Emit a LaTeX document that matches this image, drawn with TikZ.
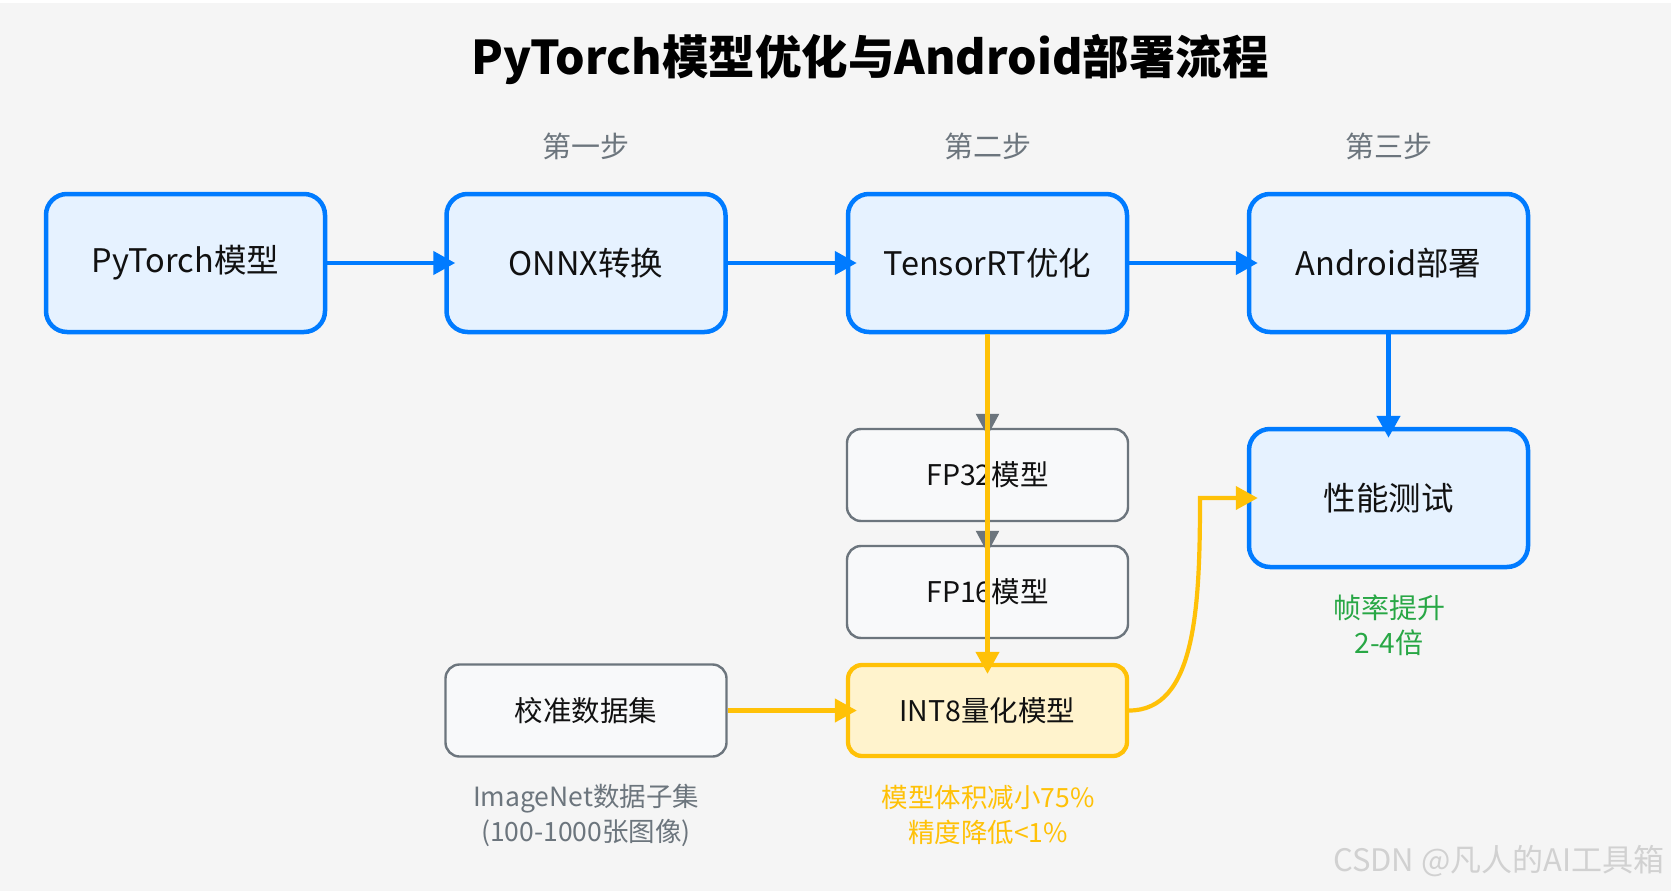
\documentclass[tikz,border=0pt]{standalone}
\usepackage{fontspec}
\setmainfont{Noto Sans CJK SC}
\usetikzlibrary{arrows.meta}
\definecolor{bgc}{HTML}{F5F5F5}
\definecolor{bluec}{HTML}{007BFF}
\definecolor{bluefill}{HTML}{E6F2FF}
\definecolor{greyc}{HTML}{6C757D}
\definecolor{greyfill}{HTML}{F8F9FA}
\definecolor{yelc}{HTML}{FFC107}
\definecolor{yelfill}{HTML}{FFF3CD}
\definecolor{greenc}{HTML}{28A745}
\definecolor{txtc}{HTML}{111111}
\begin{document}
\begin{tikzpicture}[x=1pt,y=-1pt,
  bluebox/.style={draw=bluec,fill=bluefill,line width=4.5pt,rounded corners=21pt,minimum width=279pt,minimum height=138pt,inner sep=0pt,text=txtc,font=\fontsize{32.5}{38}\selectfont},
  greybox/.style={draw=greyc,fill=greyfill,line width=2.4pt,rounded corners=14pt,minimum width=281pt,minimum height=92pt,inner sep=0pt,text=txtc,font=\fontsize{28.5}{33}\selectfont},
  yelbox/.style={draw=yelc,fill=yelfill,line width=4.3pt,rounded corners=14pt,minimum width=279pt,minimum height=91pt,inner sep=0pt,text=txtc,font=\fontsize{28.5}{33}\selectfont},
  steplabel/.style={text=greyc,font=\fontsize{29}{34}\selectfont},
  note/.style={align=center,font=\fontsize{26.5}{35}\selectfont},
  bluearrow/.style={draw=bluec,line width=4.5pt,-{Triangle[length=22pt,width=23pt]},shorten >=-11pt},
  greyarrow/.style={draw=greyc,line width=2.5pt,-{Triangle[length=22pt,width=23pt]},shorten >=-8pt},
  yelarrow/.style={draw=yelc,line width=4.2pt,-{Triangle[length=22pt,width=23pt]},shorten >=-11pt}
]
\useasboundingbox (0,0) rectangle (1671,891);
\fill[white] (0,0) rectangle (1671,891);
\fill[bgc] (0,3) rectangle (1671,891);

\node[font=\bfseries\fontsize{46.5}{52}\selectfont,text=black] (title) at (870,59) {PyTorch模型优化与Android部署流程};

\node[steplabel] (s1) at (586,146) {第一步};
\node[steplabel] (s2) at (988,146) {第二步};
\node[steplabel] (s3) at (1389,146) {第三步};

\node[bluebox] (pt) at (185.5,263) {PyTorch模型};
\node[bluebox] (onnx) at (586,263) {ONNX转换};
\node[bluebox] (trt) at (987.5,263) {TensorRT优化};
\node[bluebox] (and) at (1388.5,263) {Android部署};
\node[bluebox] (perf) at (1388.5,498) {性能测试};

\node[greybox] (fp32) at (987.5,475) {FP32模型};
\node[greybox] (fp16) at (987.5,592) {FP16模型};
\node[yelbox] (int8) at (987.5,710.5) {INT8量化模型};
\node[greybox] (calib) at (586,710.5) {校准数据集};

\node[note,text=greyc] (n1) at (586,815) {ImageNet数据子集\\(100-1000张图像)};
\node[note,text=yelc] (n2) at (988,815) {模型体积减小75\%\\精度降低<1\%};
\node[note,text=greenc,font=\fontsize{28}{35}\selectfont] (n3) at (1389,625) {帧率提升\\2-4倍};

\node[anchor=east,text=black!18,font=\fontsize{31}{36}\selectfont] (wm) at (1668,861) {CSDN @凡人的AI工具箱};

\draw[bluearrow] (pt.east) -- (onnx.west);
\draw[bluearrow] (onnx.east) -- (trt.west);
\draw[bluearrow] (trt.east) -- (and.west);
\draw[bluearrow] (and.south) -- (perf.north);

\draw[greyarrow] (trt.south) -- (fp32.north);
\draw[greyarrow] (fp32.south) -- (fp16.north);
\draw[yelarrow] (trt.south) -- (int8.north);
\draw[yelarrow] (calib.east) -- (int8.west);
\coordinate (bend) at (1200,498);
\draw[yelarrow] (int8.east) .. controls (1195,710.5) and (1200,610) .. (bend) -- (perf.west);
\end{tikzpicture}
\end{document}
